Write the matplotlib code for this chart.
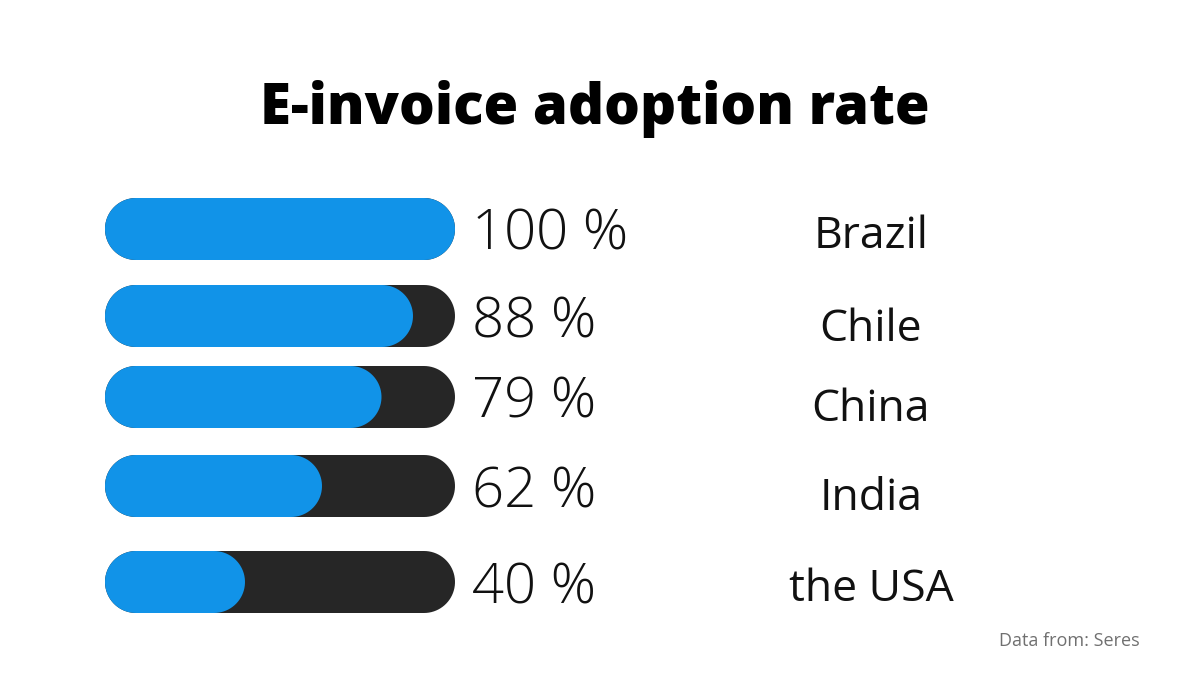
import matplotlib
matplotlib.use("Agg")
import matplotlib.pyplot as plt
import numpy as np
from matplotlib.patches import Polygon

countries = ["Brazil", "Chile", "China", "India", "the USA"]
rates = [100, 88, 79, 62, 40]
value_labels = ["100 %", "88 %", "79 %", "62 %", "40 %"]

BLUE = "#1193e8"
DARK = "#262626"

# layout in pixels (figure is 1200x700, axes cover it, y down)
row_y = [229, 316, 397, 486, 582]
value_base = [250, 337, 418, 507, 604]
name_base = [248, 341, 421, 510, 601]
bar_x0 = 105
bar_w = 350
bar_h = 62


def pill(x0, yc, w, h, color):
    # rounded bar with semicircular ends
    r = h / 2
    t = np.linspace(-np.pi / 2, np.pi / 2, 40)
    right = np.column_stack([x0 + w - r + r * np.cos(t), yc + r * np.sin(t)])
    left = np.column_stack([x0 + r - r * np.cos(t), yc - r * np.sin(t)])
    return Polygon(np.vstack([right, left]), closed=True, fc=color, ec="none")


fig = plt.figure(figsize=(12, 7), dpi=100, facecolor="white")
ax = fig.add_axes([0, 0, 1, 1])
ax.set_xlim(0, 1200)
ax.set_ylim(700, 0)
ax.axis("off")

for yc, rate, lab, name, vb, nb in zip(row_y, rates, value_labels, countries,
                                       value_base, name_base):
    ax.add_patch(pill(bar_x0, yc, bar_w, bar_h, DARK))
    ax.add_patch(pill(bar_x0, yc, bar_w * rate / 100, bar_h, BLUE))
    ax.text(472, vb, lab, fontsize=40.5, family="Open Sans", fontweight="light",
            ha="left", va="baseline", color="#111111")
    ax.text(871, nb, name, fontsize=32, family="Open Sans",
            ha="center", va="baseline", color="#111111")

ax.text(595, 124, "E-invoice adoption rate", fontsize=40.5, family="Open Sans",
        fontweight="heavy", ha="center", va="baseline", color="black")
ax.text(1140, 646, "Data from: Seres", fontsize=13, family="Open Sans",
        ha="right", va="baseline", color="#707070")

fig.savefig("out.png", dpi=100, facecolor="white")
